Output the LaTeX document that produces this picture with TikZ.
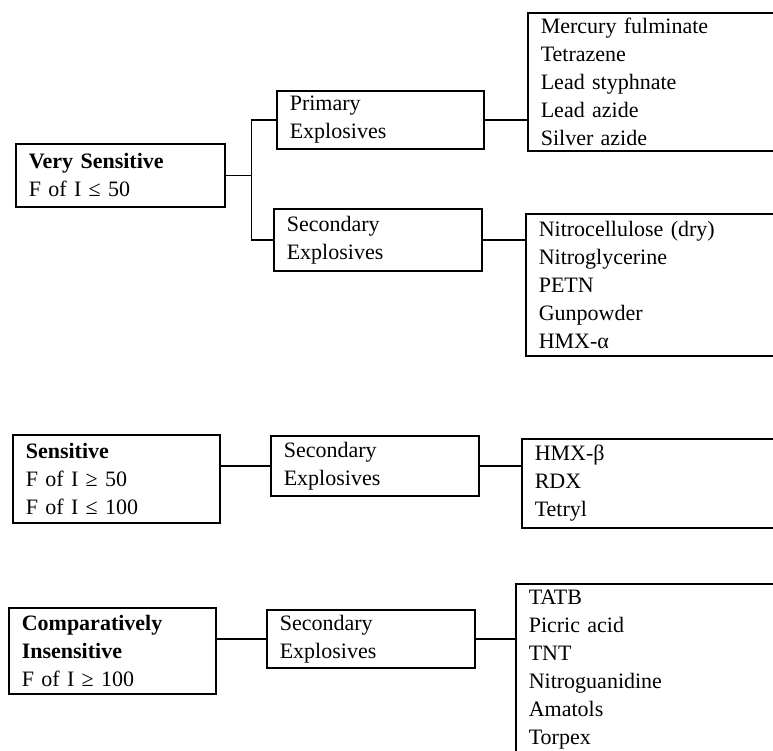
\documentclass[tikz,border=0pt]{standalone}
\usepackage{fontspec}
\setmainfont{Liberation Serif}
\usepackage{tikz}
\usetikzlibrary{positioning, calc}

\tikzset{
  catbox/.style={draw, line width=0.8pt, anchor=north west, align=left,
    inner xsep=6.5pt, inner ysep=0pt},
  link/.style={line width=0.8pt}
}

\begin{document}
\begin{tikzpicture}[x=0.5pt, y=-0.5pt, font={\fontsize{11}{14}\selectfont}]
		\useasboundingbox (0,0) rectangle (773,751);
		
		% Very sensitive group
		\node[catbox, text width=91.5pt, minimum height=31.5pt] (vsens) at (15,143)
		{\textbf{Very Sensitive}\\F of I ≤ 50};
		\node[catbox, text width=90.5pt, minimum height=29pt] (prim) at (276,90)
		{Primary\\Explosives};
		\node[catbox, text width=91pt, minimum height=31pt] (secA) at (273,208)
		{Secondary\\Explosives};
		\node[catbox, text width=111.5pt, minimum height=69pt] (listP) at (527,12)
		{Mercury fulminate\\Tetrazene\\Lead styphnate\\Lead azide\\Silver azide};
		\node[catbox, text width=112.5pt, minimum height=71pt] (listA) at (525,213)
		{Nitrocellulose (dry)\\Nitroglycerine\\PETN\\Gunpowder\\HMX-α};
		
		% Sensitive group
		\node[catbox, text width=90.5pt, minimum height=44pt] (sens) at (12,434)
		{\textbf{Sensitive}\\F of I ≥ 50\\F of I ≤ 100};
		\node[catbox, text width=91pt, minimum height=30pt] (secB) at (270,435)
		{Secondary\\Explosives};
		\node[catbox, text width=114.5pt, minimum height=44.5pt] (listB) at (521,438)
		{HMX-β\\RDX\\Tetryl};
		
		% Comparatively insensitive group
		\node[catbox, text width=90.5pt, minimum height=43pt] (insens) at (8,607)
		{\textbf{Comparatively}\\\textbf{Insensitive}\\F of I ≥ 100};
		\node[catbox, text width=91pt, minimum height=29pt] (secC) at (266,609)
		{Secondary\\Explosives};
		\node[catbox, text width=117.5pt, minimum height=86pt] (listC) at (515,583)
		{TATB\\Picric acid\\TNT\\Nitroguanidine\\Amatols\\Torpex};
		
		% Connectors
		\coordinate (fork) at ($(vsens.east)+(26,0)$);
		\draw[link] (vsens.east) -- (fork) |- (prim.west);
		\draw[link] (fork) |- (secA.west);
		\draw[link] (prim.east) -- (prim.east -| listP.west);
		\draw[link] (secA.east) -- (secA.east -| listA.west);
		
		\draw[link] (secB.west -| sens.east) -- (secB.west);
		\draw[link] (secB.east) -- (secB.east -| listB.west);
		
		\draw[link] (secC.west -| insens.east) -- (secC.west);
		\draw[link] (secC.east) -- (secC.east -| listC.west);
	\end{tikzpicture}
\end{document}
